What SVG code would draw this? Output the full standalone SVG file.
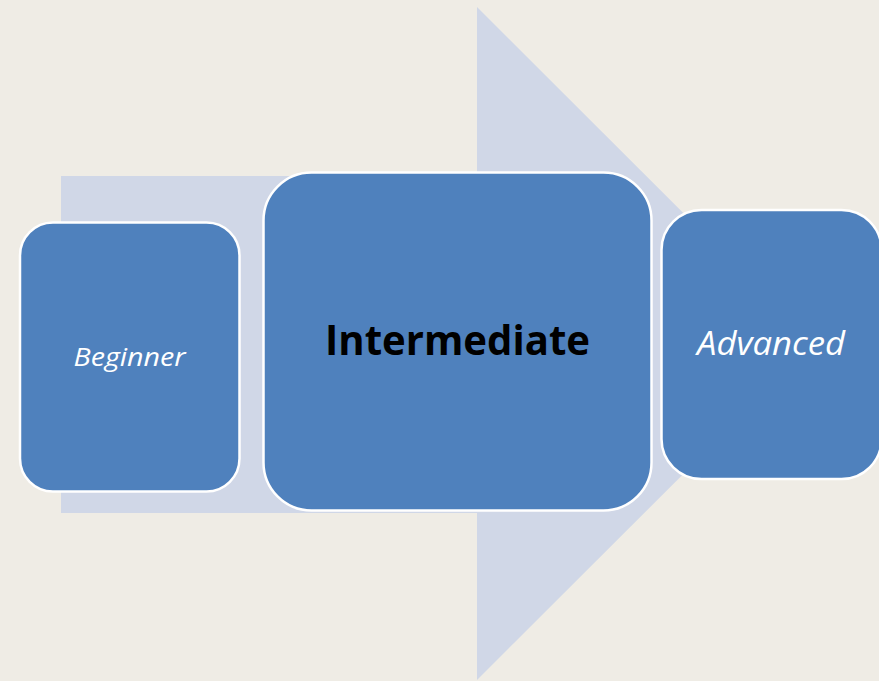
<svg xmlns="http://www.w3.org/2000/svg" width="879" height="681" viewBox="0 0 879 681">
  <style>
    .bg { fill: #efece5; }
    .arrow { fill: #d0d7e7; }
    .box { fill: #4f81bd; stroke: #ffffff; stroke-width: 2.5; }
    .lbl { font-family: "Open Sans", "Noto Sans", "Liberation Sans", sans-serif; text-anchor: middle; }
    .it { fill: #ffffff; font-style: italic; }
    .bold { fill: #000000; font-weight: bold; }
  </style>
  <rect class="bg" x="0" y="0" width="879" height="681"/>
  <g id="arrow">
    <path class="arrow" d="M61,176 H477 V7 L814,343.5 L477,680 V513 H61 Z"/>
  </g>
  <g id="connectors"></g>
  <g id="node-beginner">
    <rect class="box" x="20" y="222.5" width="219.5" height="269" rx="33" ry="33"/>
    <text class="lbl it" x="129.5" y="366" font-size="26" textLength="112" lengthAdjust="spacingAndGlyphs">Beginner</text>
  </g>
  <g id="node-intermediate">
    <rect class="box" x="263.5" y="172.5" width="388" height="338" rx="48" ry="48"/>
    <text class="lbl bold" x="457.5" y="355" font-size="42" textLength="265" lengthAdjust="spacingAndGlyphs">Intermediate</text>
  </g>
  <g id="node-advanced">
    <rect class="box" x="661.5" y="210" width="220" height="269" rx="40" ry="40"/>
    <text class="lbl it" x="771" y="355" font-size="33" textLength="148" lengthAdjust="spacingAndGlyphs">Advanced</text>
  </g>
</svg>
